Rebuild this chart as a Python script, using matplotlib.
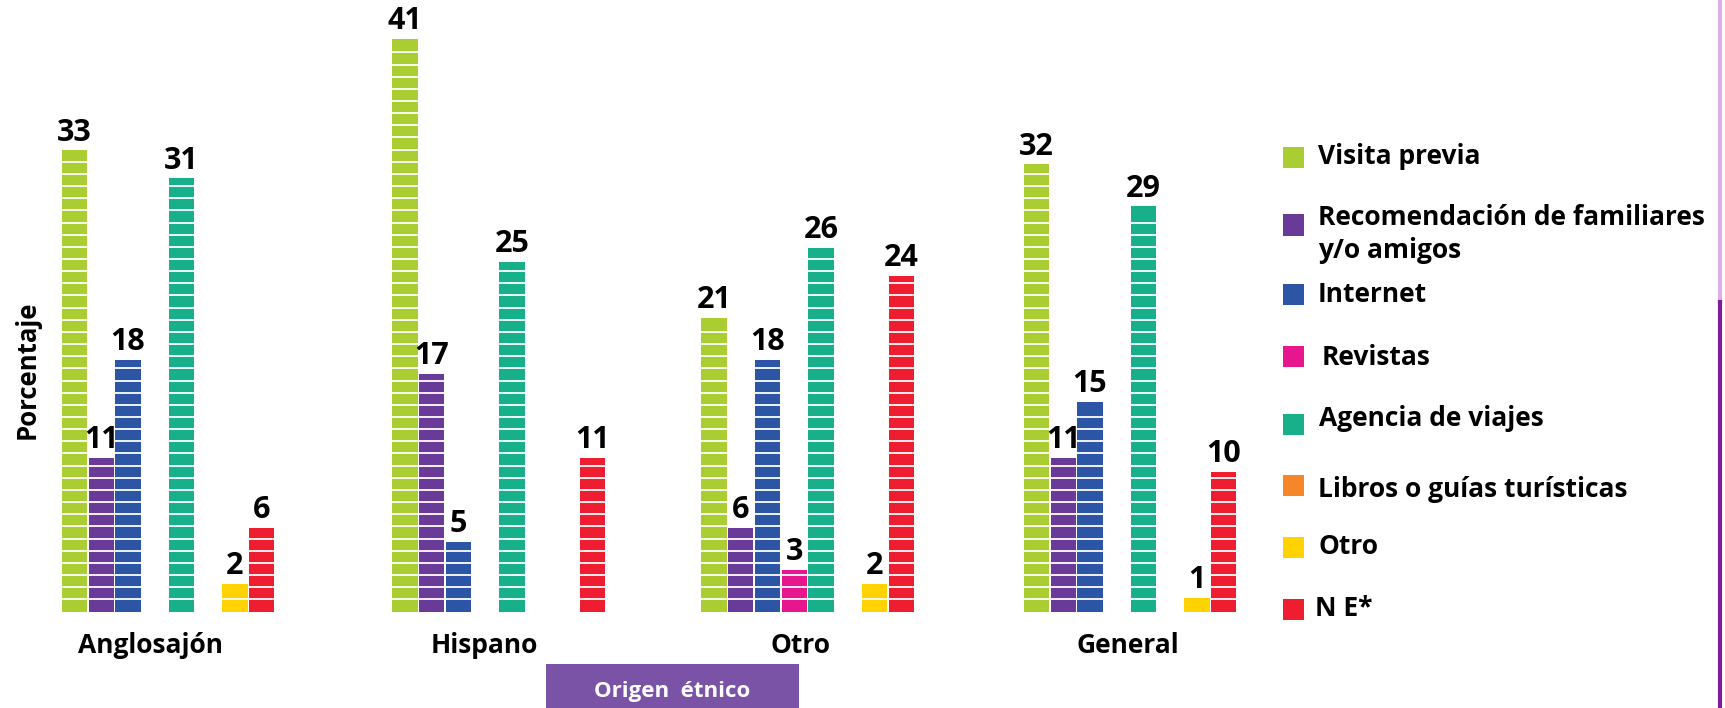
import numpy as np
import matplotlib
matplotlib.use("Agg")
import matplotlib.pyplot as plt
from matplotlib.patches import Rectangle

# ---------------- data ----------------
categories = ["Anglosajón", "Hispano", "Otro", "General"]
series = ["Visita previa", "Recomendación de familiares\ny/o amigos", "Internet",
          "Revistas", "Agencia de viajes", "Libros o guías turísticas", "Otro", "N E*"]
visita_previa = [33, 41, 21, 32]
recomendacion = [11, 17, 6, 11]
internet = [18, 5, 18, 15]
revistas = [0, 0, 3, 0]
agencia = [31, 25, 26, 29]
libros = [0, 0, 0, 0]
otro = [2, 0, 2, 1]
ne = [6, 11, 24, 10]
values = [visita_previa, recomendacion, internet, revistas, agencia, libros, otro, ne]

colors = ["#AACD32", "#6A3A99", "#2D55A6", "#E8168E", "#17B08A", "#F58629", "#FFD200", "#EE1D2F"]

# ---------------- layout ----------------
W, H = 1725, 708
plt.rcParams['font.family'] = ['Open Sans', 'DejaVu Sans']
fig = plt.figure(figsize=(W / 100, H / 100), dpi=100)
ax = fig.add_axes([0, 0, 1, 1])
px_per_unit = 13.97
baseline_px = 611.5
ax.set_xlim(0, W)
ax.set_ylim(-(H - baseline_px) / px_per_unit, baseline_px / px_per_unit)
ax.axis("off")

slot_w = 26.75
group_start = [61, 391.5, 700.5, 1023]
label_x = [151, 484, 800, 1128]
stripe_pitch = 0.87

for gi, g0 in enumerate(group_start):
    for si in range(len(series)):
        v = values[si][gi]
        if v <= 0:
            continue
        xc = g0 + (si + 0.5) * slot_w
        ax.bar(xc, v, width=slot_w - 1.5, bottom=0, color=colors[si], linewidth=0, zorder=2)
        ys = np.arange(stripe_pitch, v - 0.3, stripe_pitch)
        ax.hlines(ys, xc - slot_w / 2, xc + slot_w / 2, colors="white", linewidth=1.3, zorder=3)
        ax.text(xc, v + 0.2, f"{v}", ha="center", va="bottom", fontsize=22,
                fontweight="bold", color="black", zorder=4)
    ax.text(label_x[gi], -2.4, categories[gi], ha="center", va="center", fontsize=19,
            fontweight="bold", color="black")

# y label
fig.text(27 / W, 1 - 370 / H, "Porcentaje", rotation=90, ha="center", va="center",
         fontsize=18.5, fontweight="bold")

# legend (manual)
leg_y = [157.5, 225, 294, 357, 424.5, 485, 547, 609]
text_y = [157, 234, 294, 357.5, 418, 489.5, 547, 608]
text_x = [1318, 1318, 1318, 1322, 1319, 1318, 1318, 1315]
for i, name in enumerate(series):
    fig.patches.append(Rectangle(((1283) / W, 1 - (leg_y[i] + 10.5) / H), 21 / W, 21 / H,
                                 transform=fig.transFigure, facecolor=colors[i],
                                 edgecolor="none"))
    fig.text(text_x[i] / W, 1 - text_y[i] / H, name, ha="left", va="center",
             fontsize=19, fontweight="bold", linespacing=1.3)

# "Origen étnico" box
fig.patches.append(Rectangle((546 / W, 0), (799 - 546) / W, (708 - 664) / H,
                             transform=fig.transFigure, facecolor="#7A52A6", edgecolor="none"))
fig.text(672 / W, 1 - 692 / H, "Origen  étnico", ha="center", va="center", fontsize=16,
         fontweight="bold", color="white")

# right edge line
fig.add_artist(plt.Line2D([1720 / W, 1720 / W], [1, 1 - 302 / H], transform=fig.transFigure,
                          color="#DDB0E6", linewidth=3))
fig.add_artist(plt.Line2D([1720 / W, 1720 / W], [1 - 302 / H, 0], transform=fig.transFigure,
                          color="#7D1E9C", linewidth=3))

fig.savefig("out.png", dpi=100)
